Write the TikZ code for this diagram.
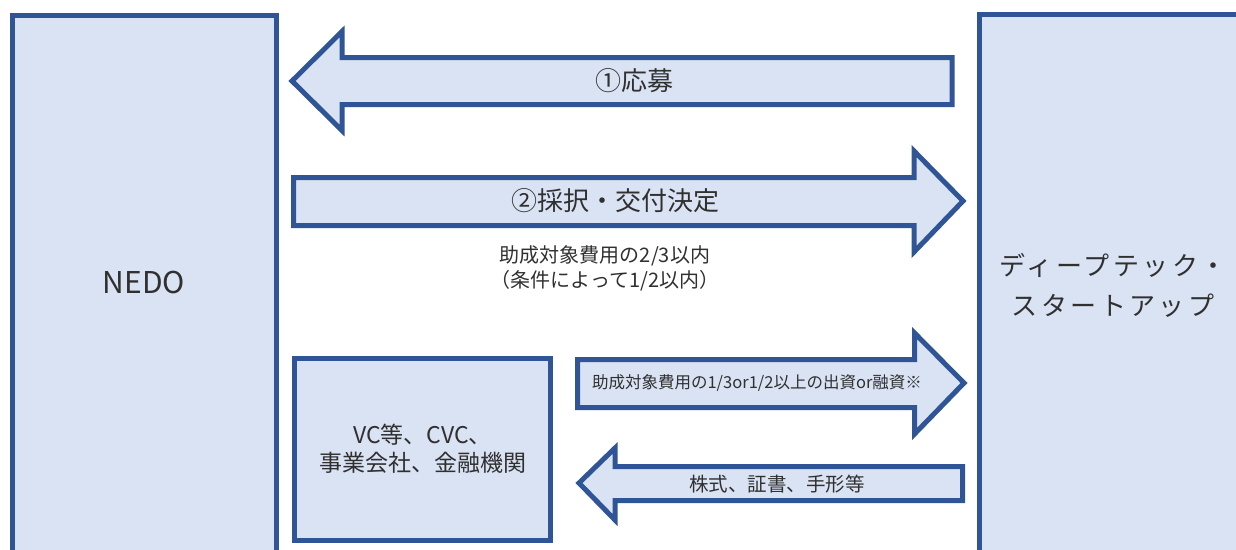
\documentclass[tikz,border=0pt]{standalone}
\usepackage{fontspec}
\setmainfont{Noto Sans CJK JP}
\definecolor{bfill}{HTML}{DAE3F3}
\definecolor{bline}{HTML}{2F5597}
\definecolor{txt}{HTML}{303030}
\tikzset{
  blk/.style={fill=bfill,draw=bline,line width=5pt,line join=miter,miter limit=10},
  lbl/.style={text=txt,inner sep=0pt,align=center},
}
\newcommand{\fsz}[2]{\fontsize{#1pt}{#2pt}\selectfont}
\begin{document}
\begin{tikzpicture}[x=1pt,y=-1pt]
\useasboundingbox (0,0) rectangle (1236,549);
\clip (0,0) rectangle (1236,549);
% NEDO box
\draw[blk] (12.5,15.5) rectangle (276.5,560);
\node[lbl,font=\fsz{30}{36}] (nedo) at (144,283) {NEDO};
% Deeptech box
\draw[blk] (979.5,14.5) rectangle (1250,560);
\node[lbl,font=\fsz{26}{40}\addfontfeature{LetterSpace=13}] (dt) at (1113,285) {ディープテック・\\スタートアップ};
% VC box
\draw[blk] (294.5,358.5) rectangle (550.5,540.5);
\node[lbl,font=\fsz{23}{28}] (vc) at (422.5,449) {VC等、CVC、\\事業会社、金融機関};
% arrow 1 (left)
\draw[blk] (292,81) -- (342,31.5) -- (342,57.5) -- (952,57.5) -- (952,104.5) -- (342,104.5) -- (342,130.5) -- cycle;
\node[lbl,font=\fsz{26}{30}] (a1) at (634,81) {①応募};
% arrow 2 (right)
\draw[blk] (293.5,177.5) -- (914,177.5) -- (914,151) -- (963,201) -- (914,252) -- (914,225.5) -- (293.5,225.5) -- cycle;
\node[lbl,font=\fsz{26}{30}] (a2) at (615.5,201) {②採択・交付決定};
% note
\node[lbl,font=\fsz{20}{25}] (note) at (605,268) {助成対象費用の2/3以内\\（条件によって1/2以内）};
% arrow 3 (right)
\draw[blk] (577.5,359.5) -- (914.5,359.5) -- (914.5,333) -- (964,383) -- (914.5,434) -- (914.5,407.5) -- (577.5,407.5) -- cycle;
\node[lbl,font=\fsz{16.5}{20}] (a3) at (757,383) {助成対象費用の1/3or1/2以上の出資or融資※};
% arrow 4 (left)
\draw[blk] (579,483) -- (615,448) -- (615,466.5) -- (962.5,466.5) -- (962.5,500.5) -- (615,500.5) -- (615,520) -- cycle;
\node[lbl,font=\fsz{19.5}{24}] (a4) at (777,484) {株式、証書、手形等};
\end{tikzpicture}
\end{document}
